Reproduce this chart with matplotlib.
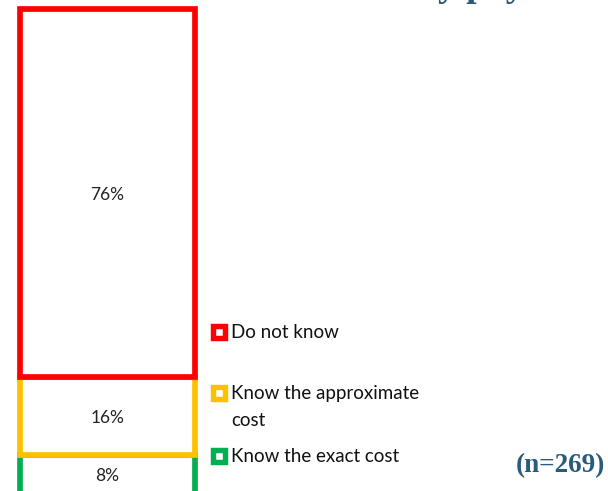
import matplotlib.pyplot as plt
from matplotlib.lines import Line2D

# data
categories = ['Know the exact cost', 'Know the approximate\ncost', 'Do not know']
shares = [8, 16, 76]
colors = ['#00b050', '#ffc000', '#ff0000']
n_text = '(n=269)'
title_text = 'they pay'

W, H = 608, 491
fig = plt.figure(figsize=(W / 100, H / 100), dpi=100)
ax = fig.add_axes([0, 0, 1, 1])

# bar spans pixels 20..195 horizontally, base sits just below the image edge
px_per_unit = 175
px_per_pct = 4.84
base_px = 493.5
left = -0.5 - 20 / px_per_unit
ax.set_xlim(left, left + W / px_per_unit)
bottom = (base_px - H) / px_per_pct
ax.set_ylim(bottom, bottom + H / px_per_pct)
ax.axis('off')

base = 0
for i, (v, c) in enumerate(zip(shares, colors)):
    ax.bar(0, v, width=1, bottom=base, facecolor='white', edgecolor=c,
           linewidth=4.1, zorder=2 + i)
    ax.text(0, base + v / 2 - 0.3, f'{v}%', ha='center', va='center',
            fontsize=12.5, family='Lato', color='#222222', zorder=10)
    base += v

def fx(px):
    return px / W

def fy(py):
    return 1 - py / H

# legend drawn by hand so the marker sits on the first text line
legend_rows = [(332, 2), (393, 1), (456, 0)]
for py, idx in legend_rows:
    fig.add_artist(Line2D([fx(219)], [fy(py)], transform=fig.transFigure,
                          marker='s', markersize=8.3, markeredgewidth=3.9,
                          markerfacecolor='white', markeredgecolor=colors[idx],
                          linestyle='none'))
    fig.text(fx(231), fy(py - 8.5), categories[idx], ha='left', va='top',
             fontsize=13.5, family='Lato', color='#111111', linespacing=1.75)

fig.text(fx(605), fy(466), n_text, ha='right', va='center', fontsize=19.5,
         family='Liberation Serif', fontweight='bold', color='#295b7d')

# title cut off at top, only descenders visible
fig.text(fx(388), fy(-4), title_text, ha='left', va='baseline', fontsize=27,
         family='Liberation Serif', fontweight='bold', color='#295b7d')

fig.savefig('out.png', dpi=100, facecolor='white')
